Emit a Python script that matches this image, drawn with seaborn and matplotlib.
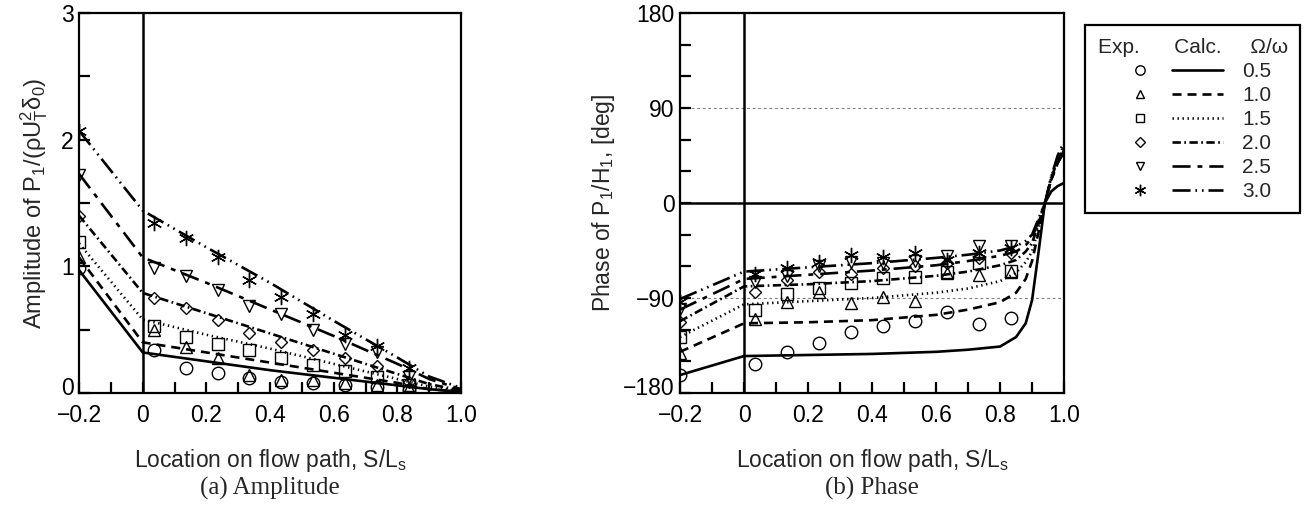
import matplotlib
matplotlib.use("Agg")
import matplotlib.pyplot as plt
import matplotlib.transforms as mtransforms
import seaborn as sns
import numpy as np
from matplotlib.lines import Line2D
from matplotlib.legend_handler import HandlerTuple

# ---- data ----
ratios = ["0.5", "1.0", "1.5", "2.0", "2.5", "3.0"]

s_exp = [-0.2, 0.035, 0.135, 0.235, 0.335, 0.435, 0.535, 0.635, 0.735, 0.835]

amp_exp_05 = [0.99, 0.34, 0.20, 0.16, 0.12, 0.09, 0.08, 0.06, 0.05, 0.02]
amp_exp_10 = [1.07, 0.50, 0.36, 0.28, 0.14, 0.10, 0.10, 0.08, 0.06, 0.04]
amp_exp_15 = [1.19, 0.53, 0.44, 0.39, 0.34, 0.28, 0.22, 0.17, 0.13, 0.06]
amp_exp_20 = [1.40, 0.75, 0.67, 0.58, 0.47, 0.40, 0.34, 0.28, 0.21, 0.09]
amp_exp_25 = [1.72, 0.99, 0.92, 0.81, 0.69, 0.62, 0.50, 0.39, 0.32, 0.13]
amp_exp_30 = [2.07, 1.34, 1.22, 1.07, 0.89, 0.76, 0.62, 0.46, 0.37, 0.20]

s_amp_calc = [-0.2, 0.0, 0.2, 0.4, 0.6, 0.8, 0.9, 1.0]
amp_calc_05 = [0.97, 0.32, 0.25, 0.18, 0.12, 0.06, 0.03, 0.01]
amp_calc_10 = [1.07, 0.40, 0.32, 0.24, 0.16, 0.08, 0.03, 0.01]
amp_calc_15 = [1.18, 0.58, 0.46, 0.35, 0.23, 0.11, 0.05, 0.01]
amp_calc_20 = [1.40, 0.79, 0.63, 0.47, 0.31, 0.15, 0.07, 0.02]
amp_calc_25 = [1.73, 1.07, 0.87, 0.66, 0.45, 0.23, 0.11, 0.03]
amp_calc_30 = [2.07, 1.44, 1.15, 0.87, 0.57, 0.28, 0.13, 0.04]

ph_exp_05 = [-163, -153, -141, -133, -122, -117, -112, -103, -115, -109]
ph_exp_10 = [-142, -110, -94, -84, -95, -89, -93, -66, -68, -65]
ph_exp_15 = [-127, -101, -86, -81, -76, -71, -70, -65, -57, -64]
ph_exp_20 = [-113, -84, -73, -65, -67, -62, -60, -57, -52, -47]
ph_exp_25 = [-100, -75, -69, -60, -56, -57, -55, -50, -41, -41]
ph_exp_30 = [-94, -67, -62, -56, -49, -51, -47, -54, -47, -43]

s_ph_calc = [-0.2, 0.0, 0.2, 0.4, 0.6, 0.7, 0.8, 0.85, 0.88, 0.9, 0.92, 0.94, 0.96, 0.98, 1.0]
ph_calc_05 = [-163, -145, -144, -143, -141, -139, -136, -127, -114, -92, -47, 0, 11, 16, 19]
ph_calc_10 = [-141, -114, -113, -111, -106, -101, -94, -85, -72, -55, -28, 0, 22, 38, 50]
ph_calc_15 = [-127, -96, -93, -90, -85, -81, -74, -66, -56, -46, -24, 0, 25, 42, 55]
ph_calc_20 = [-112, -79, -77, -74, -69, -65, -59, -54, -46, -38, -20, 0, 24, 40, 52]
ph_calc_25 = [-101, -72, -68, -64, -59, -55, -50, -46, -40, -33, -17, 0, 22, 38, 48]
ph_calc_30 = [-91, -65, -61, -57, -52, -49, -45, -41, -36, -30, -15, 0, 25, 45, 58]

amp_exp = [amp_exp_05, amp_exp_10, amp_exp_15, amp_exp_20, amp_exp_25, amp_exp_30]
amp_calc = [amp_calc_05, amp_calc_10, amp_calc_15, amp_calc_20, amp_calc_25, amp_calc_30]
ph_exp = [ph_exp_05, ph_exp_10, ph_exp_15, ph_exp_20, ph_exp_25, ph_exp_30]
ph_calc = [ph_calc_05, ph_calc_10, ph_calc_15, ph_calc_20, ph_calc_25, ph_calc_30]

# ---- styles ----
markers = ["o", "^", "s", "D", "v", (6, 2, 0)]
msizes = [9, 8.5, 8.5, 6.5, 8.5, 11]
dash_styles = [
    "-",
    (0, (6.5, 4.3)),
    (0, (1.0, 2.6)),
    (0, (6.0, 2.5, 1.2, 2.5)),
    (0, (13, 5, 3.5, 5)),
    (0, (13, 3.5, 1.2, 3.5, 1.2, 3.5)),
]

sns.set_theme(style="ticks")
plt.rcParams["font.family"] = ["Liberation Sans", "DejaVu Sans"]
plt.rcParams["mathtext.default"] = "regular"
plt.rcParams["lines.scale_dashes"] = False
plt.rcParams["axes.linewidth"] = 1.6

fig = plt.figure(figsize=(13.09, 5.21), dpi=100)
ax1 = fig.add_axes([0.0604, 0.2457, 0.2918, 0.7294])
ax2 = fig.add_axes([0.5195, 0.2457, 0.2934, 0.7294])

for i in range(6):
    sns.lineplot(x=s_amp_calc, y=amp_calc[i], ax=ax1, color="black",
                 linestyle=dash_styles[i], linewidth=1.9, estimator=None, sort=False)
    sns.lineplot(x=s_exp, y=amp_exp[i], ax=ax1, color="black", linestyle="none",
                 marker=markers[i], markersize=msizes[i], mfc="none", mec="black",
                 mew=1.0, estimator=None, sort=False)
    sns.lineplot(x=s_ph_calc, y=ph_calc[i], ax=ax2, color="black",
                 linestyle=dash_styles[i], linewidth=1.9, estimator=None, sort=False)
    sns.lineplot(x=s_exp, y=ph_exp[i], ax=ax2, color="black", linestyle="none",
                 marker=markers[i], markersize=msizes[i], mfc="none", mec="black",
                 mew=1.0, estimator=None, sort=False)

# reference lines
ax1.axvline(0, color="black", lw=1.8, zorder=1)
ax2.axvline(0, color="black", lw=1.8, zorder=1)
ax2.axhline(0, color="black", lw=1.8, zorder=1)
for yv in (-90, 90):
    ax2.axhline(yv, color="gray", lw=0.8, ls=(0, (2, 2)), zorder=0)

# axes setup
xlabels = ["\u22120.2", "0", "0.2", "0.4", "0.6", "0.8", "1.0"]
ax1.set_xlim(-0.2, 1.0)
ax1.set_ylim(0, 3)
ax1.set_xticks(np.arange(-0.2, 1.01, 0.2))
ax1.set_xticklabels(xlabels)
ax1.set_xticks(np.arange(-0.1, 1.0, 0.2), minor=True)
ax1.set_yticks([0, 1, 2, 3])
ax1.set_yticks([0.5, 1.5, 2.5], minor=True)

ax2.set_xlim(-0.2, 1.0)
ax2.set_ylim(-180, 180)
ax2.set_xticks(np.arange(-0.2, 1.01, 0.2))
ax2.set_xticklabels(xlabels)
ax2.set_xticks(np.arange(-0.1, 1.0, 0.2), minor=True)
ax2.set_yticks([-180, -90, 0, 90, 180])
ax2.set_yticklabels(["\u2212180", "\u221290", "0", "90", "180"])
ax2.set_yticks([-150, -120, -60, -30, 30, 60, 120, 150], minor=True)

for ax in (ax1, ax2):
    for sp in ax.spines.values():
        sp.set_visible(True)
        sp.set_color("black")
        sp.set_linewidth(1.6)
    ax.tick_params(which="both", direction="in", length=8, width=1.6,
                   labelsize=16.5, colors="black")
    ax.tick_params(axis="x", pad=8)
    ax.tick_params(axis="y", pad=4)
    ax.set_xlabel("Location on flow path, S/L$_s$", fontsize=16.5, labelpad=14)
    # lift the bottom y label a little so it clears the first x label
    lift = mtransforms.ScaledTranslation(0, 5 / 72, fig.dpi_scale_trans)
    bottom_lab = ax.get_yticklabels()[0]
    bottom_lab.set_transform(bottom_lab.get_transform() + lift)

ax1.set_ylabel("Amplitude of P$_1$/(ρU$_T^2$δ$_0$)", fontsize=17, labelpad=8)
ax2.set_ylabel("Phase of P$_1$/H$_1$, [deg]", fontsize=16.5, labelpad=4)

# captions
fig.text(0.206, 0.063, "(a) Amplitude", ha="center", va="center",
         family="Liberation Serif", fontsize=18)
fig.text(0.666, 0.063, "(b) Phase", ha="center", va="center",
         family="Liberation Serif", fontsize=18)

# legend
handles = []
for i in range(6):
    mk = Line2D([], [], color="black", linestyle="none", marker=markers[i],
                markersize=msizes[i] * 0.75, mfc="none", mec="black", mew=1.0)
    ln = Line2D([], [], color="black", linestyle=dash_styles[i], linewidth=1.9)
    handles.append((mk, ln))
leg = fig.legend(handles=handles, labels=ratios,
                 handler_map={tuple: HandlerTuple(ndivide=None, pad=0.3)},
                 title="Exp.      Calc.     Ω/ω", title_fontsize=15, fontsize=15,
                 loc="upper left", bbox_to_anchor=(0.8212, 0.9712),
                 handlelength=5.2, handletextpad=0.9, labelspacing=0.24,
                 borderpad=0.6, fancybox=False, framealpha=1, edgecolor="black")
leg.get_frame().set_linewidth(1.6)

fig.savefig("out.png", dpi=100)
